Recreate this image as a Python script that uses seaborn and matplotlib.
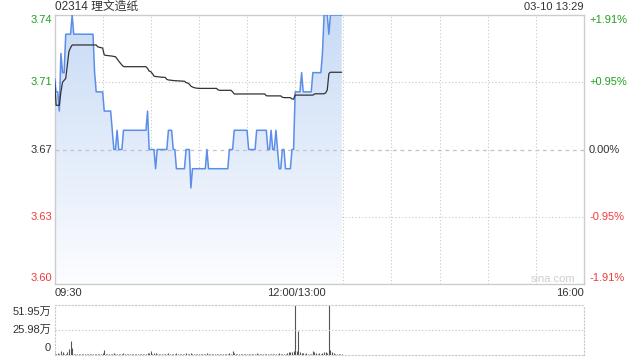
import numpy as np
import pandas as pd
import matplotlib
matplotlib.use("Agg")
import matplotlib.pyplot as plt
from matplotlib.colors import LinearSegmentedColormap
import seaborn as sns

# ---------------- data ----------------
title = "02314 理文造纸"
stamp = "03-10 13:29"
prev_close = 3.67
price_labels = ["3.74", "3.71", "3.67", "3.63", "3.60"]
pct_labels = ["+1.91%", "+0.95%", "0.00%", "-0.95%", "-1.91%"]
vol_labels = ["51.95万", "25.98万", "0"]
time_labels = ["09:30", "12:00/13:00", "16:00"]

# one value per trading minute from 09:30 (lunch break removed)
price = [
    3.707, 3.70, 3.70, 3.69, 3.72, 3.71, 3.71, 3.73, 3.73, 3.73,
    3.73, 3.74, 3.73, 3.73, 3.73, 3.73, 3.73, 3.73, 3.73, 3.73,
    3.73, 3.73, 3.73, 3.73, 3.73, 3.71, 3.70, 3.70, 3.70, 3.70,
    3.70, 3.69, 3.69, 3.69, 3.69, 3.69, 3.68, 3.67, 3.67, 3.68,
    3.67, 3.67, 3.67, 3.68, 3.68, 3.68, 3.68, 3.68, 3.68, 3.68,
    3.68, 3.68, 3.68, 3.68, 3.68, 3.68, 3.68, 3.68, 3.69, 3.67,
    3.67, 3.67, 3.67, 3.66, 3.67, 3.67, 3.67, 3.67, 3.67, 3.67,
    3.67, 3.68, 3.68, 3.68, 3.67, 3.67, 3.66, 3.66, 3.66, 3.66,
    3.66, 3.66, 3.67, 3.67, 3.67, 3.65, 3.66, 3.66, 3.66, 3.66,
    3.66, 3.66, 3.66, 3.66, 3.66, 3.67, 3.66, 3.66, 3.66, 3.66,
    3.66, 3.66, 3.66, 3.66, 3.66, 3.66, 3.66, 3.66, 3.66, 3.67,
    3.67, 3.67, 3.68, 3.68, 3.68, 3.68, 3.68, 3.68, 3.68, 3.68,
    3.68, 3.67, 3.67, 3.67, 3.67, 3.67, 3.68, 3.68, 3.68, 3.68,
    3.68, 3.68, 3.68, 3.67, 3.67, 3.68, 3.67, 3.67, 3.68, 3.67,
    3.66, 3.66, 3.67, 3.67, 3.66, 3.66, 3.66, 3.66, 3.67, 3.67,
    3.70, 3.70, 3.70, 3.70, 3.71, 3.70, 3.70, 3.70, 3.70, 3.70,
    3.70, 3.71, 3.71, 3.71, 3.71, 3.71, 3.71, 3.72, 3.74, 3.74,
    3.74, 3.73, 3.74, 3.74, 3.74, 3.74, 3.74, 3.74, 3.74, 3.74,
]

avg_price = [
    3.707, 3.693, 3.693, 3.693, 3.700, 3.705, 3.706, 3.707, 3.714, 3.721,
    3.723, 3.7244, 3.7244, 3.7244, 3.7244, 3.7244, 3.7244, 3.7244, 3.7244, 3.7244,
    3.7244, 3.7244, 3.7244, 3.7244, 3.7244, 3.7244, 3.7244, 3.7234, 3.7232, 3.7230,
    3.7228, 3.7192, 3.7190, 3.7189, 3.7188, 3.7187, 3.7186, 3.7184, 3.7183, 3.7172,
    3.7160, 3.7150, 3.7140, 3.7132, 3.7131, 3.7131, 3.7131, 3.7131, 3.7131, 3.7131,
    3.7131, 3.7131, 3.7131, 3.7131, 3.7131, 3.7131, 3.7131, 3.7131, 3.7122, 3.7108,
    3.7105, 3.7095, 3.7082, 3.7080, 3.7079, 3.7078, 3.7077, 3.7076, 3.7076, 3.7075,
    3.7065, 3.7062, 3.7061, 3.7060, 3.7059, 3.7058, 3.7058, 3.7057, 3.7057, 3.7056,
    3.7056, 3.7055, 3.7048, 3.7046, 3.7040, 3.7030, 3.7025, 3.7022, 3.7020, 3.7019,
    3.7018, 3.7018, 3.7018, 3.7018, 3.7018, 3.7018, 3.7018, 3.7018, 3.7018, 3.7018,
    3.7018, 3.7018, 3.7010, 3.7008, 3.7008, 3.7008, 3.7008, 3.7008, 3.7008, 3.7008,
    3.7008, 3.7000, 3.6989, 3.6989, 3.6989, 3.6989, 3.6989, 3.6989, 3.6989, 3.6989,
    3.6989, 3.6989, 3.6989, 3.6989, 3.6989, 3.6989, 3.6989, 3.6989, 3.6989, 3.6989,
    3.6989, 3.6989, 3.6980, 3.6979, 3.6979, 3.6979, 3.6979, 3.6979, 3.6979, 3.6979,
    3.6979, 3.6979, 3.6972, 3.6970, 3.6970, 3.6970, 3.6970, 3.6970, 3.6963, 3.6962,
    3.6984, 3.6983, 3.6983, 3.6983, 3.6983, 3.6983, 3.6983, 3.6983, 3.6983, 3.6983,
    3.6983, 3.6983, 3.6989, 3.6990, 3.6990, 3.6990, 3.6990, 3.6990, 3.6990, 3.6995,
    3.7010, 3.7095, 3.7102, 3.7102, 3.7102, 3.7102, 3.7102, 3.7102, 3.7102, 3.7102,
]

volume = [
    18000, 10000, 22000, 9000, 42000, 30000, 12000, 15000, 30000, 60000,
    145000, 70000, 14000, 9000, 12000, 8000, 11000, 14000, 9000, 8000,
    11000, 7000, 10000, 13000, 8000, 15000, 11000, 9000, 8000, 14000,
    18000, 52000, 15000, 11000, 9000, 12000, 15000, 22000, 11000, 9000,
    14000, 11000, 8000, 16000, 9000, 12000, 8000, 11000, 9000, 15000,
    8000, 11000, 7000, 9000, 12000, 8000, 11000, 9000, 18000, 22000,
    42000, 14000, 16000, 20000, 11000, 9000, 8000, 12000, 9000, 11000,
    14000, 18000, 11000, 9000, 15000, 12000, 16000, 9000, 8000, 11000,
    9000, 12000, 20000, 11000, 15000, 24000, 14000, 9000, 11000, 8000,
    9000, 12000, 8000, 11000, 9000, 16000, 14000, 8000, 11000, 9000,
    8000, 11000, 15000, 9000, 8000, 12000, 9000, 11000, 14000, 18000,
    15000, 45000, 22000, 11000, 9000, 12000, 8000, 11000, 9000, 14000,
    9000, 15000, 11000, 8000, 12000, 14000, 16000, 9000, 11000, 8000,
    9000, 12000, 15000, 11000, 9000, 14000, 11000, 9000, 15000, 12000,
    16000, 11000, 14000, 9000, 15000, 25000, 30000, 35000, 32000, 38000,
    519500, 40000, 252000, 30000, 22000, 18000, 15000, 20000, 12000, 10000,
    15000, 42000, 35000, 20000, 12000, 18000, 15000, 25000, 28000, 30000,
    20000, 515000, 57000, 30000, 22000, 15000, 12000, 10000, 8000, 6000,
]

minute = list(range(len(price)))
df = pd.DataFrame({"minute": minute, "price": price, "avg": avg_price, "volume": volume})

# ---------------- style ----------------
sns.set_theme(style="white")
plt.rcParams["font.family"] = ["Liberation Sans", "Noto Sans CJK SC", "DejaVu Sans"]

W, H = 640, 360
fig = plt.figure(figsize=(6.4, 3.6), dpi=100)
fig.patch.set_facecolor("white")

L, R = 54.5, 584.0
ax = fig.add_axes([L / W, 1 - 284 / H, (R - L) / W, 269 / H])
axv = fig.add_axes([L / W, 1 - 355 / H, (R - L) / W, 50 / H])

ymin, ymax = 3.60, 3.74
xmax = 330

# gradient area under the price line
poly = ax.fill_between(df["minute"], df["price"], ymin, facecolor="none", edgecolor="none")
cmap = LinearSegmentedColormap.from_list("g", ["#fcfdff", "#c9dbf6"])
grad = np.linspace(1, 0, 256).reshape(-1, 1)
im = ax.imshow(grad, extent=[0, len(price) - 1, ymin, ymax], aspect="auto",
               cmap=cmap, vmin=0, vmax=1, zorder=1)
im.set_clip_path(poly.get_paths()[0], transform=ax.transData)

sns.lineplot(data=df, x="minute", y="price", ax=ax, color="#5b8ee9", linewidth=1.1, zorder=3)
sns.lineplot(data=df, x="minute", y="avg", ax=ax, color="#333333", linewidth=0.9, zorder=4)

ax.set_xlim(0, xmax)
ax.set_ylim(ymin, ymax)
ax.set_xlabel("")
ax.set_ylabel("")
ax.set_xticks(range(30, xmax, 30))
ax.set_yticks([3.635, 3.705])
ax.tick_params(length=0, labelbottom=False, labelleft=False)
ax.grid(True, linestyle=(0, (1, 2)), color="#c8c8c8", linewidth=0.8)
ax.axhline(prev_close, linestyle=(0, (3, 3)), color="#c2c2c2", linewidth=0.9, zorder=2)
for s in ax.spines.values():
    s.set_color("#cccccc")
    s.set_linewidth(1.0)

# volume panel
axv.vlines(df["minute"], 0, df["volume"], color="#555555", linewidth=0.8)
axv.set_xlim(0, xmax)
axv.set_ylim(0, 519500)
axv.set_xticks([])
axv.set_yticks([])
axv.axhline(259750, linestyle=(0, (1, 2)), color="#c0c0c0", linewidth=0.8)
for s in axv.spines.values():
    s.set_color("#c8c8c8")
    s.set_linestyle((0, (1, 2)))
    s.set_linewidth(0.8)

# ---------------- texts ----------------
def ft(x, y, s, size=8, **kw):
    fig.text(x / W, 1 - y / H, s, va="center", fontsize=size, **kw)

green, red, dark = "#1fa01f", "#f23a3a", "#333333"
ft(55, 7, title, size=8.5, ha="left", color=dark)
ft(584, 7, stamp, ha="right", color=dark)

label_y = [20, 82, 150, 217, 278]
label_c = [green, green, dark, red, red]
for y, s, c in zip(label_y, price_labels, label_c):
    ft(52, y, s, ha="right", color=c)
for y, s, c in zip(label_y, pct_labels, label_c):
    ft(589, y, s, ha="left", color=c)

ft(55, 293, time_labels[0], ha="left", color=dark)
ft(296, 293, time_labels[1], ha="center", color=dark)
ft(584, 293, time_labels[2], ha="right", color=dark)

for y, s in zip([312, 330, 348], vol_labels):
    ft(51, y, s, ha="right", color=dark)

ft(553, 279, "sina.com", ha="center", color="#cfcfcf")

fig.savefig("out.png", dpi=100, facecolor="white")
